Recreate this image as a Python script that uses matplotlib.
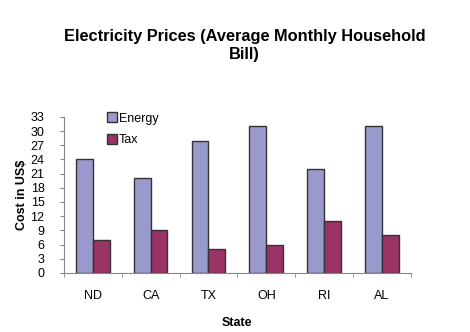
import numpy as np
import matplotlib
matplotlib.use("Agg")
import matplotlib.pyplot as plt

plt.rcParams['font.family'] = ['Liberation Sans', 'DejaVu Sans']

states = ["ND", "CA", "TX", "OH", "RI", "AL"]
energy = [24, 20, 28, 31, 22, 31]
tax = [7, 9, 5, 6, 11, 8]
yticks = list(range(0, 34, 3))

fig = plt.figure(figsize=(4.70, 3.32), dpi=100)
ax = fig.add_axes([0.136, 0.178, 0.738, 0.47])

x = np.arange(len(states))
w = 0.29
ax.bar(x - w / 2, energy, w, color="#9999CC", edgecolor="#333333", linewidth=1.0, label="Energy")
ax.bar(x + w / 2, tax, w, color="#993366", edgecolor="#333333", linewidth=1.0, label="Tax")

ax.set_xlim(-0.5, len(states) - 0.5)
ax.set_ylim(0, 33)
ax.set_yticks(yticks)
ax.tick_params(axis='y', labelsize=9, length=3, color="#888888", pad=11)

# category labels sit between the boundary tick marks
ax.set_xticks(x)
ax.set_xticklabels(states, fontsize=9)
ax.tick_params(axis='x', length=0, pad=12)
ax.set_xticks(np.arange(-0.5, len(states)), minor=True)
ax.tick_params(axis='x', which='minor', length=3, color="#888888")

for s in ["top", "right"]:
    ax.spines[s].set_visible(False)
for s in ["left", "bottom"]:
    ax.spines[s].set_color("#888888")

ax.set_ylabel("Cost in US$", fontsize=9, fontweight="bold", labelpad=1.5)
ax.set_xlabel("State", fontsize=9, fontweight="bold", labelpad=11)

fig.text(0.52, 0.863, "Electricity Prices (Average Monthly Household\nBill)",
         ha="center", va="center", fontsize=11.8, fontweight="bold", linespacing=1.2)

ax.legend(loc="upper left", bbox_to_anchor=(0.125, 1.028), frameon=False, fontsize=9,
          handlelength=0.8, handleheight=0.8, handletextpad=0.15, labelspacing=0.75,
          borderaxespad=0, borderpad=0)

fig.savefig("out.png", dpi=100)
